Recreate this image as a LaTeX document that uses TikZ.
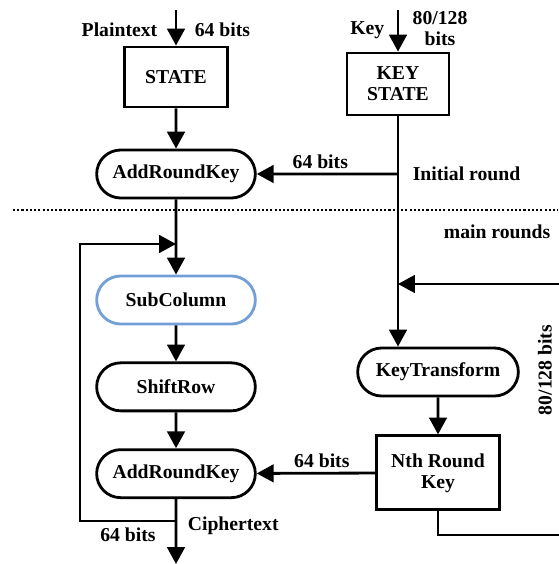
\documentclass[tikz,border=0pt]{standalone}
\usepackage{fontspec}
\setmainfont{Liberation Serif}
\usetikzlibrary{arrows.meta,positioning,shapes.misc}
\definecolor{subblue}{RGB}{114,159,216}
\begin{document}
\begin{tikzpicture}[x=0.025cm,y=-0.025cm,node distance=0.9cm,>={Triangle[length=12pt,width=12.5pt]},line width=2pt,
  every node/.append style={align=center,font=\bfseries\fontsize{14}{15}\selectfont},
  blk/.style={draw,rectangle,inner sep=2pt},
  rnd/.style={draw,rounded rectangle,minimum width=4.2cm,minimum height=1.2cm},
  lbl/.style={inner sep=1pt}]
  \useasboundingbox (0,0) rectangle (558,564);
  % state path
  \node [blk,minimum width=2.575cm,minimum height=1.5cm] (st) at (176,77) {STATE};
  \node [rnd] (ark1) at (176,174) {AddRoundKey};
  \node [rnd,draw=subblue] (sub) at (176,300) {SubColumn};
  \node [rnd,below=of sub] (sr) {ShiftRow};
  \node [rnd,below=of sr] (ark2) {AddRoundKey};
  % key path
  \node [blk,minimum width=2.55cm,minimum height=1.55cm] (ks) at (398,84) {KEY\\STATE};
  \node [rnd,minimum width=4.25cm] (kt) at (438,372) {KeyTransform};
  \node [blk,minimum width=3.075cm,minimum height=1.85cm,below=0.925cm of kt] (nrk) {Nth Round\\Key};
  \coordinate (pin) at (176,10);
  \coordinate (kin) at (398,10);
  \coordinate (pout) at (176,564);
  \coordinate (kb) at (ks.south |- ark1);
  \coordinate (fb) at (176,521);
  \coordinate (fl) at (80,244);
  \coordinate (fj) at (176,244);
  \coordinate (kc) at (560,535);
  \coordinate (kr) at (560,284);
  \coordinate (kj) at (ks.south |- kr);
  % labels
  \node [lbl,anchor=east] (ptl) at (160,30) {Plaintext};
  \node [lbl,anchor=west] (pbl) at (192,30) {64 bits};
  \node [lbl,anchor=east] (kyl) at (387,30) {Key};
  \node [lbl] (kbl) at (440,29) {80/128\\bits};
  \node [lbl,anchor=west] (inr) at (410,174) {Initial round};
  \node [lbl,anchor=east] (mnr) at (553,232) {main rounds};
  \node [lbl,anchor=west] (ctl) at (185,526) {Ciphertext};
  \node [lbl] (cbl) at (128,535) {64 bits};
  \node [lbl,rotate=90] (rbl) at (545,370) {80/128 bits};
  \draw [line width=1pt,dash pattern=on 1.5pt off 1.5pt] (13,210) -- (558,210);
  % connectors
  \draw [->] (pin) -- (st);
  \draw [->] (st) -- (ark1);
  \draw [->] (ark1) -- (sub);
  \draw [->] (sub) -- (sr);
  \draw [->] (sr) -- (ark2);
  \draw [->] (ark2) -- (pout);
  \draw [->] (fb) -| (fl) -- (fj);
  \draw [->] (kin) -- (ks);
  \draw [->] (ks.south) -- (ks.south |- kt.north);
  \draw [->] (kb) -- node [lbl,above=2pt,pos=0.55] {64 bits} (ark1);
  \draw [->] (kt) -- (nrk);
  \draw [->] (nrk) -- node [lbl,above=2pt,pos=0.45] {64 bits} (ark2);
  \draw [->] (nrk.south) |- (kc) -- (kr) -- (kj);
\end{tikzpicture}
\end{document}
